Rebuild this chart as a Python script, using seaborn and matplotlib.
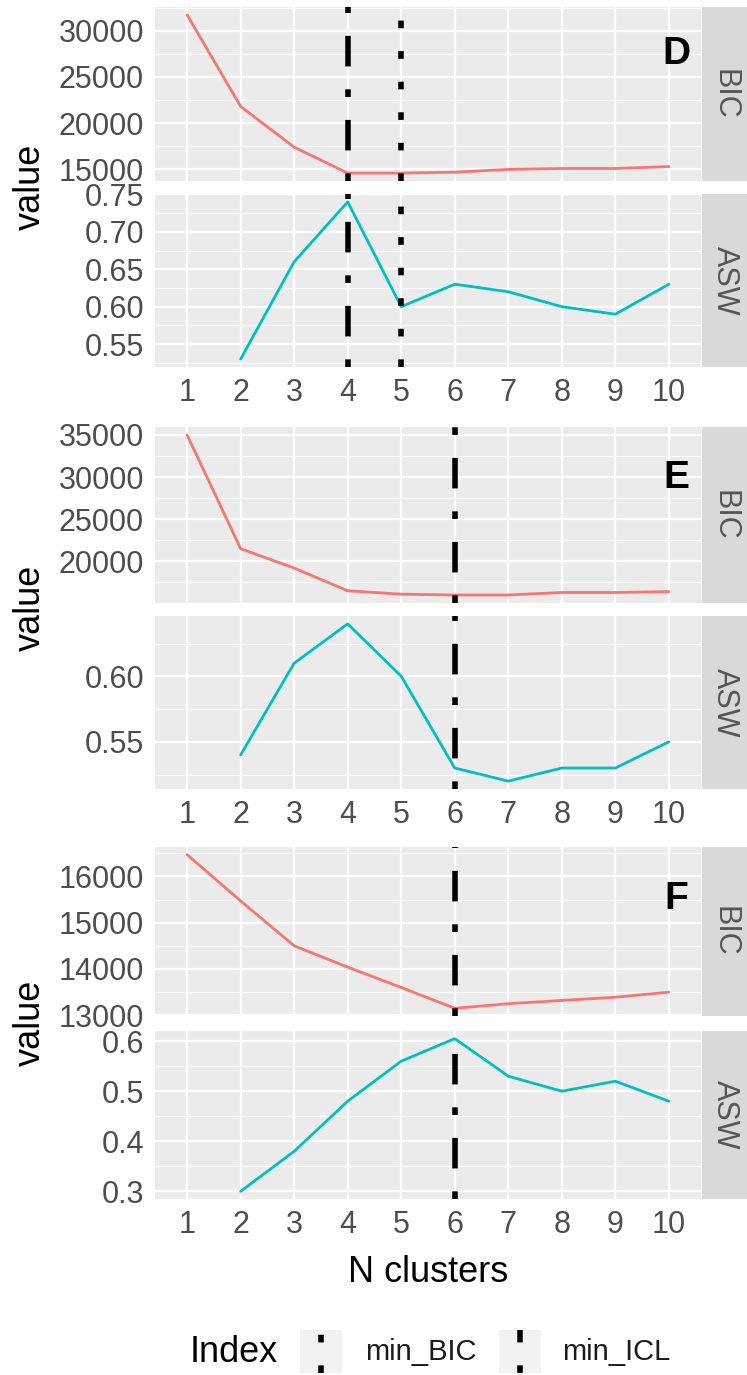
import numpy as np
import seaborn as sns
import matplotlib
matplotlib.use("Agg")
import matplotlib.pyplot as plt
from matplotlib.ticker import MultipleLocator, FormatStrFormatter

# ---------------- data ----------------
n_clusters = [1, 2, 3, 4, 5, 6, 7, 8, 9, 10]
panel_names = ["D", "E", "F"]
facet_names = ["BIC", "ASW"]

bic_d = [31700, 21800, 17400, 14600, 14600, 14700, 15000, 15100, 15100, 15300]
asw_d = [np.nan, 0.53, 0.66, 0.74, 0.60, 0.63, 0.62, 0.60, 0.59, 0.63]
bic_e = [35000, 21500, 19200, 16500, 16100, 16000, 16000, 16300, 16300, 16400]
asw_e = [np.nan, 0.54, 0.61, 0.64, 0.60, 0.53, 0.52, 0.53, 0.53, 0.55]
bic_f = [16470, 15470, 14500, 14040, 13600, 13150, 13250, 13320, 13390, 13500]
asw_f = [np.nan, 0.30, 0.38, 0.48, 0.56, 0.605, 0.53, 0.50, 0.52, 0.48]

# vertical reference lines (N clusters chosen by each index)
min_bic = [5, None, None]
min_icl = [4, 6, 6]

legend_labels = ["min_BIC", "min_ICL"]

# ---------------- style ----------------
sns.set_theme(style="darkgrid", rc={"axes.facecolor": "#EBEBEB", "grid.color": "white"})
plt.rcParams["font.family"] = ["Liberation Sans", "DejaVu Sans"]

TICK_SIZE = 22
RED = "#F8766D"
TEAL = "#00BFC4"
DOTTED = (0, (1.375, 4.125))
DOTDASH = (0, (1.375, 4.125, 5.5, 4.125))
W, H = 747, 1375

fig = plt.figure(figsize=(W / 100, H / 100), dpi=100)


def rect(left, top, right, bottom):
    return [left / W, 1 - bottom / H, (right - left) / W, (bottom - top) / H]


# pixel boxes for each (panel, facet)
boxes = [[(7, 181), (194, 367)],
         [(427, 603), (616, 789)],
         [(847, 1016), (1031, 1199)]]
series = [[bic_d, asw_d], [bic_e, asw_e], [bic_f, asw_f]]
major = [[5000, 0.05], [5000, 0.05], [1000, 0.1]]
fmts = [["%d", "%.2f"], ["%d", "%.2f"], ["%d", "%.1f"]]
label_y = [0.73, 0.71, 0.69]

for p, name in enumerate(panel_names):
    for f, facet in enumerate(facet_names):
        top, bottom = boxes[p][f]
        ax = fig.add_axes(rect(155, top, 701, bottom))
        vals = np.array(series[p][f], dtype=float)
        sns.lineplot(x=n_clusters, y=vals, ax=ax, color=RED if f == 0 else TEAL, lw=2.0)

        lo, hi = np.nanmin(vals), np.nanmax(vals)
        pad = (hi - lo) * 0.05
        ax.set_ylim(lo - pad, hi + pad)
        ax.set_xlim(0.4, 10.6)
        ax.set_xticks(n_clusters)
        ax.yaxis.set_major_locator(MultipleLocator(major[p][f]))
        ax.yaxis.set_minor_locator(MultipleLocator(major[p][f] / 2))
        ax.yaxis.set_major_formatter(FormatStrFormatter(fmts[p][f]))
        ax.grid(which="major", color="white", lw=1.6)
        ax.grid(which="minor", axis="y", color="white", lw=0.8)
        ax.set_axisbelow(True)
        for s in ax.spines.values():
            s.set_visible(False)
        ax.tick_params(axis="both", which="major", length=5, width=1.2, color="#333333",
                       labelcolor="#4D4D4D", labelsize=TICK_SIZE, pad=3)
        ax.tick_params(axis="y", which="minor", length=0)
        if f == 0:
            ax.tick_params(axis="x", length=0, labelbottom=False)
        ax.set_xlabel("")
        ax.set_ylabel("")

        if min_bic[p] is not None:
            ax.axvline(min_bic[p], color="black", lw=4, linestyle=DOTTED)
        if min_icl[p] is not None:
            ax.axvline(min_icl[p], color="black", lw=4, linestyle=DOTDASH)

        if f == 0:
            ax.text(0.955, label_y[p], name, transform=ax.transAxes, ha="center",
                    va="center", fontsize=28, fontweight="bold", color="black")

        # facet strip on the right
        sax = fig.add_axes(rect(702, top, 747, bottom))
        sax.set_facecolor("#D9D9D9")
        sax.set_xticks([])
        sax.set_yticks([])
        sax.grid(False)
        for s in sax.spines.values():
            s.set_visible(False)
        sax.text(0.5, 0.5, facet, rotation=270, ha="center", va="center",
                 fontsize=22, color="#555555", transform=sax.transAxes)

    ymid = (boxes[p][0][0] + boxes[p][1][1]) / 2
    fig.text(30 / W, 1 - ymid / H, "value", rotation=90, ha="center", va="center",
             fontsize=26, color="black")

fig.text(428 / W, 1 - 1272 / H, "N clusters", ha="center", va="center", fontsize=26, color="black")

# legend
ly = 1352
fig.text(190 / W, 1 - ly / H, "Index", ha="left", va="center", fontsize=26, color="black")
key_x = [(300, 342), (499, 541)]
text_x = [365, 562]
for (kx0, kx1), tx, lab, ls in zip(key_x, text_x, legend_labels, [DOTTED, DOTDASH]):
    kax = fig.add_axes(rect(kx0, 1330, kx1, 1373))
    kax.set_facecolor("#F2F2F2")
    kax.set_xticks([])
    kax.set_yticks([])
    kax.grid(False)
    for s in kax.spines.values():
        s.set_visible(False)
    kax.axvline(0.5, color="black", lw=4, linestyle=ls)
    kax.set_xlim(0, 1)
    fig.text(tx / W, 1 - ly / H, lab, ha="left", va="center", fontsize=21, color="#1A1A1A")

fig.savefig("out.png", dpi=100, facecolor="white")
